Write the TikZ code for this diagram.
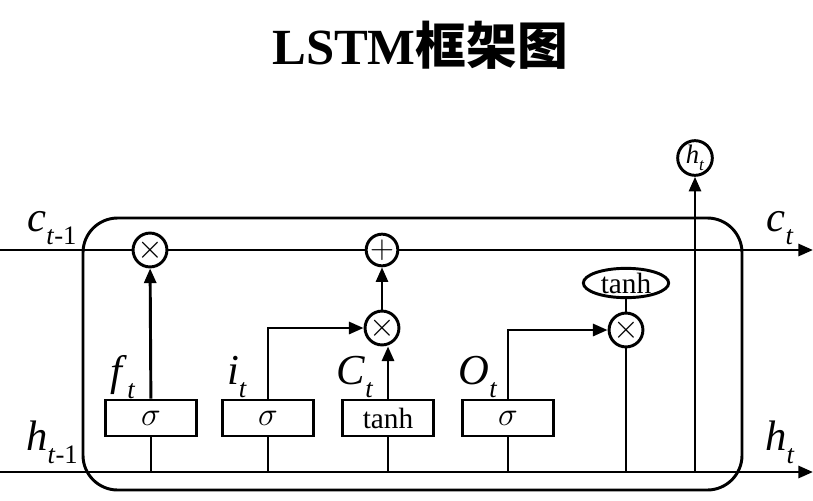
\documentclass[tikz,border=0pt]{standalone}
\usepackage{fontspec}
\setmainfont{Liberation Serif}
\newfontfamily\cjk{Noto Sans CJK SC}
\usetikzlibrary{arrows.meta,shapes.geometric}
\newcommand{\lbl}[2]{\textit{#1}\raisebox{-0.3em}{\fontsize{20}{20}\selectfont\textit{#2}}}
\begin{document}
\begin{tikzpicture}[x=0.75pt,y=-0.75pt,line width=2.2pt,
  >={Triangle[length=11pt,width=9pt]},
  op/.style={circle,draw,minimum size=22.5pt,inner sep=0pt,font=\fontsize{30}{30}\selectfont},
  gate/.style={draw,minimum width=68pt,minimum height=27pt,inner sep=0pt,font=\fontsize{22}{22}\selectfont},
  lab/.style={font=\fontsize{32}{32}\selectfont}]
\useasboundingbox (0,0) rectangle (813,500);
\node[font=\bfseries\fontsize{38}{38}\selectfont] (title) at (420,45) {LSTM{\cjk 框架图}};
\draw[rounded corners=26pt] (83,218) rectangle (742,490);
% ops
\node[op] (m1) at (150,250) {$\times$};
\node[op] (p1) at (382,250) {$+$};
\node[op] (m2) at (382,328) {$\times$};
\node[op] (m3) at (626,330) {$\times$};
\node[ellipse,draw,minimum width=64pt,minimum height=22pt,inner sep=0pt,font=\fontsize{22}{22}\selectfont] (th) at (626,283) {tanh};
\node[circle,draw,minimum size=26pt,inner sep=0pt,font=\fontsize{20}{20}\selectfont] (ho) at (695,158) {\textit{h}\raisebox{-0.25em}{\fontsize{13}{13}\selectfont\textit{t}}};
% gates
\node[gate] (g1) at (151,418) {\fontsize{30}{30}\selectfont$\sigma$};
\node[gate] (g2) at (268,418) {\fontsize{30}{30}\selectfont$\sigma$};
\node[gate] (g3) at (388,418) {tanh};
\node[gate] (g4) at (508,418) {\fontsize{30}{30}\selectfont$\sigma$};
% coordinates
\coordinate (cl) at (0,250); \coordinate (cr) at (813,250);
\coordinate (hl) at (0,472); \coordinate (hr) at (813,472);
\coordinate (hc) at (626,472); \coordinate (hu) at (695,472);
% lines
\draw (cl) -- (m1) -- (p1);
\draw[->] (p1) -- (cr);
\draw (hl) -- (hc);
\draw (g1.south) -- (g1.south |- hl);
\draw (g2.south) -- (g2.south |- hl);
\draw (g3.south) -- (g3.south |- hl);
\draw (g4.south) -- (g4.south |- hl);
\draw[->] (g1) -- (m1);
\draw[->] (g2.north) |- (m2);
\draw[->] (g3.north) -- (g3.north |- m2.south);
\draw[->] (m2) -- (p1);
\draw[->] (g4.north) |- (m3);
\draw (th) -- (m3);
\draw (m3) -- (hc);
\draw[->] (hc) -- (hr);
\draw[->] (hu) -- (ho);
% labels
\node[lab] (lc1) at (52,228) {\lbl{c}{t}\raisebox{-0.3em}{\fontsize{20}{20}\selectfont -1}};
\node[lab] (lc2) at (780,228) {\lbl{c}{t}};
\node[lab] (lh1) at (52,442) {\lbl{h}{t}\raisebox{-0.3em}{\fontsize{20}{20}\selectfont -1}};
\node[lab] (lh2) at (780,442) {\lbl{h}{t}};
\node[lab] (lf) at (123,377) {\lbl{f}{t}};
\node[lab] (li) at (237,377) {\lbl{i}{t}};
\node[lab] (lC) at (355,377) {\lbl{C}{t}};
\node[lab] (lO) at (478,377) {\lbl{O}{t}};
\end{tikzpicture}
\end{document}
